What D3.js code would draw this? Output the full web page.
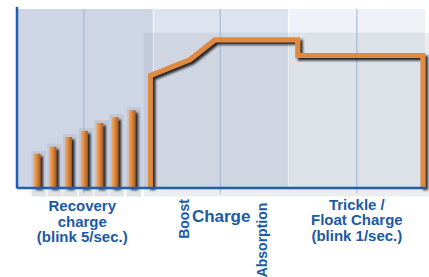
<!DOCTYPE html>
<html>
<head>
<meta charset="utf-8">
<script src="https://cdn.jsdelivr.net/npm/d3@7"></script>
<style>
  body { margin: 0; background: #fff; }
  svg { display: block; }
  .lbl { font-family: "Liberation Sans", Arial, sans-serif; font-weight: bold; fill: #1c5aa6; }
</style>
</head>
<body>
<div id="chart"></div>
<script>
// phases of the charge cycle (x in % of the cycle)
var phaseStart = [0, 33.3, 66.4];
var phaseEnd = [33.3, 66.4, 100];
var phaseFill = ["#ced6e6", "#dde3ef", "#eef1f7"];
var gridX = [16.4, 49.8, 83.3];

// recovery pulses
var pulseX = [4.9, 8.8, 12.6, 16.5, 20.3, 24.0, 28.2];
var pulseLevel = [18.9, 22.8, 28.3, 31.7, 36.1, 39.4, 43.3];

// boost / absorption / float curve
var chargeX = [32.7, 32.7, 42.4, 48.5, 68.8, 68.8, 99.5, 99.5];
var chargeLevel = [0, 62.8, 71.7, 82.8, 82.8, 73.9, 73.9, 0];

var svgWidth = 429;
var svgHeight = 277;

var margin = { top: 8, right: 4, bottom: 89, left: 17 };

var svg = d3.select("#chart")
  .append("svg")
  .attr("width", svgWidth)
  .attr("height", svgHeight);

var defs = svg.append("defs");

var shadow = defs.append("filter")
  .attr("id", "shadow")
  .attr("x", "-50%").attr("y", "-20%")
  .attr("width", "200%").attr("height", "140%");
shadow.append("feDropShadow")
  .attr("dx", 2.5).attr("dy", 2.5)
  .attr("stdDeviation", 1)
  .attr("flood-color", "#111")
  .attr("flood-opacity", 0.9);

var barGrad = defs.append("linearGradient")
  .attr("id", "barGrad")
  .attr("x1", "0").attr("x2", "1").attr("y1", "0").attr("y2", "0");
barGrad.append("stop").attr("offset", "0%").attr("stop-color", "#f3ab6c");
barGrad.append("stop").attr("offset", "45%").attr("stop-color", "#de8a40");
barGrad.append("stop").attr("offset", "100%").attr("stop-color", "#a65a22");

var xScale = d3.scaleLinear()
  .domain([0, 100])
  .range([margin.left, svgWidth - margin.right]);

var yScale = d3.scaleLinear()
  .domain([0, 100])
  .range([svgHeight - margin.bottom - 0.5, 9]);

var y0 = yScale(0);

// phase backgrounds
svg.selectAll("rect.phase")
  .data(phaseStart)
  .enter()
  .append("rect")
  .attr("class", "phase")
  .attr("x", (d, i) => xScale(d) + (i ? 1 : 0))
  .attr("y", yScale(100))
  .attr("width", (d, i) => xScale(phaseEnd[i]) - xScale(d) - (i ? 1 : 0))
  .attr("height", y0 - yScale(100))
  .attr("fill", (d, i) => phaseFill[i]);

// grey panel behind the charge curve
svg.append("rect")
  .attr("x", xScale(31.1))
  .attr("y", yScale(86.7))
  .attr("width", svgWidth - xScale(31.1))
  .attr("height", y0 + 9 - yScale(86.7))
  .attr("fill", "#8a8f9c")
  .attr("opacity", 0.16);

// gridlines
svg.selectAll("line.grid")
  .data(gridX)
  .enter()
  .append("line")
  .attr("class", "grid")
  .attr("x1", d => xScale(d))
  .attr("x2", d => xScale(d))
  .attr("y1", yScale(100))
  .attr("y2", y0 + 6)
  .attr("stroke", "#9db4d2")
  .attr("stroke-width", 1);

// soft boxes behind pulses
svg.selectAll("rect.pbox")
  .data(pulseX)
  .enter()
  .append("rect")
  .attr("class", "pbox")
  .attr("x", d => xScale(d) - 5.5)
  .attr("y", (d, i) => yScale(pulseLevel[i]) - 3)
  .attr("width", 14.5)
  .attr("height", (d, i) => y0 + 9 - yScale(pulseLevel[i]) + 3)
  .attr("fill", "#a8adb8")
  .attr("opacity", 0.35);

// pulses
svg.selectAll("rect.pulse")
  .data(pulseX)
  .enter()
  .append("rect")
  .attr("class", "pulse")
  .attr("x", d => xScale(d) - 3.5)
  .attr("y", (d, i) => yScale(pulseLevel[i]))
  .attr("width", 7)
  .attr("height", (d, i) => y0 - yScale(pulseLevel[i]))
  .attr("fill", "url(#barGrad)")
  .attr("filter", "url(#shadow)");

// charge curve
var line = d3.line()
  .x(d => xScale(d[0]))
  .y(d => yScale(d[1]));

svg.append("path")
  .datum(chargeX.map((d, i) => [d, chargeLevel[i]]))
  .attr("d", line)
  .attr("fill", "none")
  .attr("stroke", "#df8a40")
  .attr("stroke-width", 5)
  .attr("stroke-linejoin", "miter")
  .attr("filter", "url(#shadow)");

// axes
var bottomAxis = d3.axisBottom(xScale).tickValues([]).tickSizeOuter(0);
var leftAxis = d3.axisLeft(yScale).tickValues([]).tickSizeOuter(0);

svg.append("g")
  .attr("transform", `translate(0, ${y0})`)
  .call(bottomAxis)
  .select(".domain")
  .attr("stroke", "#1e5fae")
  .attr("stroke-width", 2.5);

svg.append("g")
  .attr("transform", `translate(${margin.left}, 0)`)
  .call(leftAxis)
  .select(".domain")
  .attr("stroke", "#1e5fae")
  .attr("stroke-width", 2.5)
  .attr("d", `M0,${y0 + 1}V7`);

// labels
var recovery = ["Recovery", "charge", "(blink 5/sec.)"];
var trickle = ["Trickle /", "Float Charge", "(blink 1/sec.)"];

svg.selectAll("text.rec")
  .data(recovery)
  .enter()
  .append("text")
  .attr("class", "lbl rec")
  .attr("x", xScale(16))
  .attr("y", (d, i) => 211 + i * 15.6)
  .attr("text-anchor", "middle")
  .attr("font-size", 15)
  .text(d => d);

svg.selectAll("text.tri")
  .data(trickle)
  .enter()
  .append("text")
  .attr("class", "lbl tri")
  .attr("x", xScale(83.3))
  .attr("y", (d, i) => 209.5 + i * 15.8)
  .attr("text-anchor", "middle")
  .attr("font-size", 15)
  .text(d => d);

svg.append("text")
  .attr("class", "lbl")
  .attr("x", xScale(49.8) + 1)
  .attr("y", 222)
  .attr("text-anchor", "middle")
  .attr("font-size", 17)
  .text("Charge");

svg.append("text")
  .attr("class", "lbl")
  .attr("transform", "translate(189, 219) rotate(-90)")
  .attr("text-anchor", "middle")
  .attr("font-size", 14)
  .text("Boost");

svg.append("text")
  .attr("class", "lbl")
  .attr("transform", "translate(267, 240) rotate(-90)")
  .attr("text-anchor", "middle")
  .attr("font-size", 14)
  .text("Absorption");
</script>
</body>
</html>
